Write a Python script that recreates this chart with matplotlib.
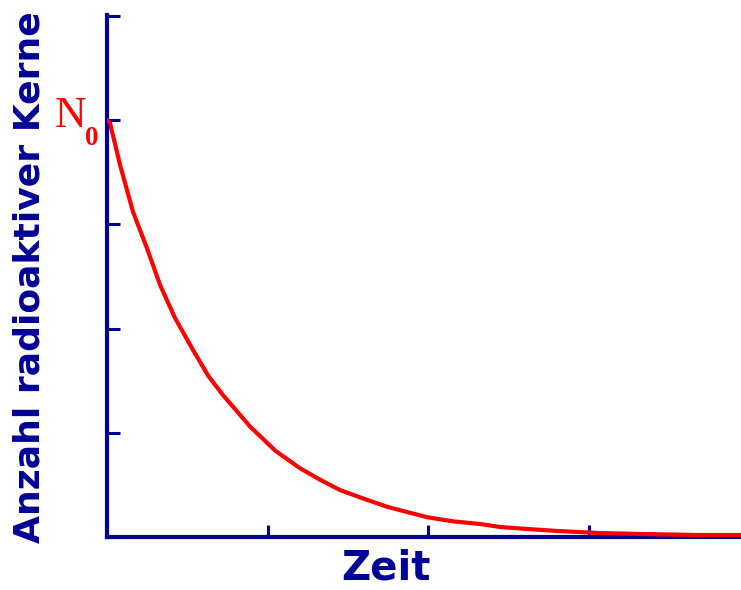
import matplotlib
matplotlib.use("Agg")
import matplotlib.pyplot as plt

# Zerfallskurve, Werte (x in Tick-Einheiten, y in Tick-Einheiten)
zeit = [0.0, 0.019, 0.081, 0.162, 0.249, 0.330, 0.424, 0.530, 0.629, 0.723,
        0.785, 0.891, 1.047, 1.202, 1.327, 1.452, 1.595, 1.745, 1.869, 1.994,
        2.156, 2.324, 2.449, 2.617, 2.804, 3.072, 3.321, 3.695, 3.950]
kerne = [4.0, 3.97, 3.57, 3.12, 2.77, 2.42, 2.10, 1.81, 1.55, 1.36,
         1.25, 1.06, 0.83, 0.66, 0.55, 0.45, 0.37, 0.29, 0.24, 0.19,
         0.15, 0.125, 0.096, 0.077, 0.058, 0.038, 0.029, 0.019, 0.019]
xticks = [0, 1, 2, 3]
yticks = [0, 1, 2, 3, 4, 5]

blau = "#000096"
rot = "#ff0000"

fig = plt.figure(figsize=(7.41, 5.90), dpi=100)
ax = fig.add_axes([107/741, 53/590, 634/741, 522/590])

ax.plot(zeit, kerne, color=rot, lw=3.0, solid_capstyle="round",
        solid_joinstyle="round", zorder=3)

ax.set_xlim(0, 634/160.5)
ax.set_ylim(0, 522/104.25)
ax.set_xticks(xticks)
ax.set_yticks(yticks)
ax.set_xticklabels([])
ax.set_yticklabels([])
ax.tick_params(direction="in", length=9, width=2.2, color=blau)

for s in ["top", "right"]:
    ax.spines[s].set_visible(False)
for s in ["left", "bottom"]:
    ax.spines[s].set_color(blau)
    ax.spines[s].set_linewidth(3.0)

fig.text(385.5/741, 1 - 569/590, "Zeit", color=blau, fontsize=29,
         fontweight="bold", family="DejaVu Sans", ha="center", va="center")
fig.text(30/741, 1 - 277/590, "Anzahl radioaktiver Kerne", color=blau,
         fontsize=26, fontweight="bold", family="DejaVu Sans",
         rotation=90, ha="center", va="center")

fig.text(55/741, 1 - 127/590, "N", color=rot, fontsize=31.5,
         family="Liberation Serif", ha="left", va="baseline")
fig.text(85/741, 1 - 145/590, "0", color=rot, fontsize=19.5,
         fontweight="bold", family="Liberation Serif", ha="left", va="baseline")

fig.savefig("out.png", dpi=100)
